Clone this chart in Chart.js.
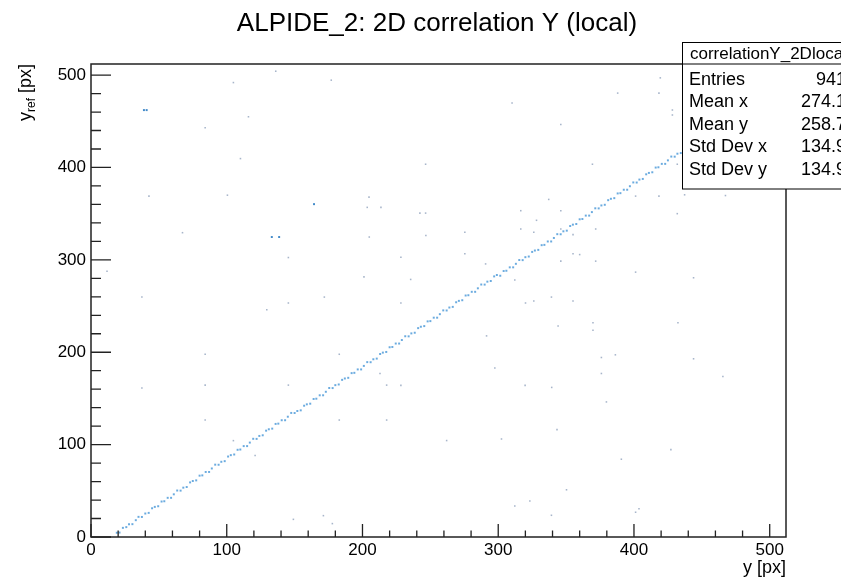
<!DOCTYPE html>
<html>
<head>
<meta charset="utf-8">
<script src="https://cdn.jsdelivr.net/npm/chart.js@4.4.1/dist/chart.umd.min.js"></script>
<style>
  body { margin: 0; background: #fff; }
  #c { display: block; }
</style>
</head>
<body>
<canvas id="c" width="841" height="582"></canvas>
<script>
// ticks
const xTicks = [0, 100, 200, 300, 400, 500];
const yTicks = [0, 100, 200, 300, 400, 500];

// hits on the correlation band [y, y_ref]
const lineHits = [
  [19,4.6],[21,4.8],[23.5,9.9],[26,10.7],[28,13.9],[30.5,13.9],[33,18.2],[35,21.8],[37.5,21.7],[40,25.4],
  [42.5,26.1],[45,31.1],[47,32.6],[49.5,33.3],[52,38.4],[54,38.7],[56.5,42.4],[59,42.4],[61,46.2],[63.5,50.3],
  [66,50.2],[68,53.4],[70.5,54.1],[73,59.1],[75,60.6],[77.5,61.3],[80,66.4],[82,66.7],[84.5,70.4],[87,70.4],
  [89,74.2],[91.5,78.3],[94,78.2],[96,81.4],[98.5,82.1],[101,87.1],[103,88.6],[105.5,89.3],[108,94.4],[110,94.7],
  [112.5,98.4],[115,98.4],[117,102.2],[119.5,106.3],[122,106.2],[124,109.4],[126.5,110.1],[129,115.1],[131,116.6],[133.5,117.3],
  [136,122.4],[138,122.7],[140.5,126.4],[143,126.4],[145,130.2],[147.5,134.3],[150,134.2],[152,136.4],[154.5,137.1],[157,142.1],
  [159,143.6],[161.5,144.3],[164,149.4],[166,149.7],[168.5,153.4],[171,153.4],[173,157.2],[175.5,161.3],[178,161.2],[180,164.4],
  [182.5,165.1],[185,170.1],[187,171.6],[189.5,172.3],[192,177.4],[194,177.7],[196.5,181.4],[199,181.4],[201,185.2],[203.5,189.3],
  [206,189.2],[208,192.4],[210.5,193.1],[213,198.1],[215,199.6],[217.5,200.3],[220,205.4],[222,205.7],[224.5,209.4],[227,209.4],
  [229,213.2],[231.5,217.3],[234,217.2],[236,220.4],[238.5,221.1],[241,226.1],[243,227.6],[245.5,228.3],[248,233.4],[250,233.7],
  [252.5,237.4],[255,237.4],[257,241.2],[259.5,245.3],[262,245.2],[264,248.4],[266.5,249.1],[269,254.1],[271,255.6],[273.5,256.3],
  [276,261.4],[278,261.7],[280.5,265.4],[283,265.4],[285,269.2],[287.5,273.3],[290,273.2],[292,276.4],[294.5,277.1],[297,282.1],
  [299,283.6],[301.5,282.8],[304,287.9],[306,288.2],[308.5,291.9],[311,291.9],[313,295.7],[315.5,299.8],[318,299.7],[320,302.9],
  [322.5,303.6],[325,308.6],[327,310.1],[329.5,310.8],[332,315.9],[334,316.2],[336.5,319.9],[339,319.9],[341,323.7],[343.5,327.8],
  [346,327.7],[348,330.9],[350.5,331.6],[353,336.6],[355,338.1],[357.5,338.8],[360,343.9],[362,344.2],[364.5,347.9],[367,347.9],
  [369,351.7],[371.5,355.8],[374,355.7],[376,358.9],[378.5,359.6],[381,364.6],[383,366.1],[385.5,366.8],[388,371.9],[390,372.2],
  [392.5,375.9],[395,375.9],[397,379.7],[399.5,383.8],[402,383.7],[404,386.9],[406.5,387.6],[409,392.6],[411,394.1],[413.5,394.8],
  [416,399.9],[418,400.2],[420.5,403.9],[423,403.9],[425,407.7],[427.5,411.8],[430,411.7],[432,414.9],[434.5,415.6],[437,420.6],
  [440,423.1]
];

// uncorrelated hits
const noiseHits = [
  [136.1,504.2],[104.9,491.9],[177.0,494.5],[116.0,454.9],[84.1,443.0],[110.1,409.6],[42.7,369.0],[100.5,370.0],
  [204.8,367.9],[203.5,356.8],[213.6,356.8],[67.4,329.4],[205.0,324.7],[145.4,302.5],[11.8,287.7],[201.1,281.6],
  [419.4,497.0],[388.0,480.5],[418.4,480.5],[310.2,469.7],[428.3,462.2],[428.3,456.8],[346.1,446.6],[246.5,403.5],
  [369.4,403.5],[431.9,403.5],[242.3,350.6],[246.5,350.6],[316.6,353.2],[346.1,353.2],[418.4,369.0],[401.2,369.0],
  [431.9,350.0],[337.2,365.4],[328.2,342.8],[246.7,326.3],[275.4,329.8],[316.6,333.4],[326.2,329.8],[346.1,333.4],
  [371.8,333.4],[355.1,327.3],[228.3,302.8],[275.4,306.5],[355.1,306.5],[360.0,305.7],[290.7,295.6],[346.1,298.6],
  [371.8,298.6],[401.2,286.7],[235.5,278.8],[312.2,278.1],[37.5,259.7],[145.4,253.3],[171.9,259.7],[129.5,246.0],
  [84.1,197.8],[182.9,197.8],[37.5,161.2],[84.1,164.4],[145.4,164.4],[217.8,164.4],[84.1,126.6],[182.9,126.6],
  [217.8,126.6],[104.9,104.3],[120.9,88.2],[443.9,280.6],[228.3,253.3],[320.1,253.3],[326.2,255.4],[339.2,259.7],
  [355.1,255.4],[344.1,228.5],[369.8,232.0],[369.8,223.8],[432.4,232.0],[291.4,217.7],[376.0,194.3],[386.3,197.2],
  [443.9,192.9],[297.5,182.9],[376.0,177.0],[465.5,173.8],[212.9,177.0],[228.3,164.1],[319.8,164.1],[339.4,161.9],
  [379.7,146.2],[262.0,104.4],[302.4,106.1],[343.3,116.2],[427.2,94.6],[390.7,84.2],[350.3,51.1],[323.3,38.9],
  [312.2,33.5],[403.7,30.6],[149.1,19.1],[171.2,23.1],[177.8,14.5],[437.3,370.4],[467.4,369.6],[339.2,23.5],
  [401.2,26.8]
];

// bins with more than one hit
const doubleHits = [[39,462.1],[41,462.1],[164.3,360.3],[133.2,324.7],[138.6,324.7]];

const statLabels = ['Entries', 'Mean x', 'Mean y', 'Std Dev x', 'Std Dev y'];
const statValues = ['941', '274.1', '258.7', '134.9', '134.9'];

const FONT = '"Liberation Sans", Arial, Helvetica, sans-serif';
const toPts = a => a.map(p => ({x: p[0], y: p[1]}));

const rootFrame = {
  id: 'rootFrame',
  afterDraw(chart) {
    const ctx = chart.ctx;
    const a = chart.chartArea;
    const sx = chart.scales.x, sy = chart.scales.y;
    ctx.save();
    ctx.strokeStyle = '#222';
    ctx.lineWidth = 1.5;
    ctx.strokeRect(a.left, a.top, a.right - a.left, a.bottom - a.top);

    // tick marks, inside the frame
    ctx.lineWidth = 1.3;
    ctx.beginPath();
    for (let v = 0; v <= 512; v += 20) {
      const major = v % 100 === 0;
      const px = sx.getPixelForValue(v);
      ctx.moveTo(px, a.bottom);
      ctx.lineTo(px, a.bottom - (major ? 13 : 6.5));
      const py = sy.getPixelForValue(v);
      ctx.moveTo(a.left, py);
      ctx.lineTo(a.left + (major ? 20 : 10), py);
    }
    ctx.stroke();

    // title
    ctx.fillStyle = '#000';
    ctx.font = '26px ' + FONT;
    ctx.textAlign = 'center';
    ctx.textBaseline = 'alphabetic';
    ctx.fillText('ALPIDE_2: 2D correlation Y (local)', 437, 31);

    // x title
    ctx.font = '18px ' + FONT;
    ctx.textAlign = 'right';
    ctx.fillText('y [px]', a.right, 573);

    // y title, rotated, with subscript
    ctx.save();
    ctx.translate(31, a.top);
    ctx.rotate(-Math.PI / 2);
    ctx.textAlign = 'left';
    const f1 = '18px ' + FONT, f2 = '12px ' + FONT;
    ctx.font = f1; const w1 = ctx.measureText('y').width;
    ctx.font = f2; const w2 = ctx.measureText('ref').width;
    ctx.font = f1; const w3 = ctx.measureText(' [px]').width;
    let x0 = -(w1 + w2 + w3);
    ctx.font = f1; ctx.fillText('y', x0, 0);
    ctx.font = f2; ctx.fillText('ref', x0 + w1, 4);
    ctx.font = f1; ctx.fillText(' [px]', x0 + w1 + w2, 0);
    ctx.restore();

    // stats box
    const bx = 682, by = 42.5, bw = 180, bh = 146.5;
    ctx.fillStyle = '#fff';
    ctx.fillRect(bx, by, bw, bh);
    ctx.strokeStyle = '#000';
    ctx.lineWidth = 1;
    ctx.strokeRect(bx + 0.5, by, bw, bh);
    ctx.beginPath();
    ctx.moveTo(bx, a.top);
    ctx.lineTo(bx + bw, a.top);
    ctx.stroke();
    ctx.fillStyle = '#000';
    ctx.textAlign = 'left';
    ctx.font = '17px ' + FONT;
    ctx.fillText('correlationY_2Dlocal', 690, 59);
    ctx.font = '18px ' + FONT;
    const rows = [85, 107, 129.5, 152, 175];
    statLabels.forEach((s, i) => {
      ctx.textAlign = 'left';
      ctx.fillText(s, 689, rows[i]);
      ctx.textAlign = 'right';
      ctx.fillText(statValues[i], 846, rows[i]);
    });
    ctx.restore();
  }
};

new Chart(document.getElementById('c'), {
  type: 'scatter',
  data: {
    datasets: [
      {
        label: 'band',
        data: toPts(lineHits),
        pointStyle: 'rect',
        pointRadius: 1.4,
        pointBorderWidth: 0,
        backgroundColor: 'rgba(70,150,215,0.8)'
      },
      {
        label: 'double',
        data: toPts(doubleHits),
        pointStyle: 'rect',
        pointRadius: 1.4,
        pointBorderWidth: 0,
        backgroundColor: 'rgba(45,125,195,0.9)'
      },
      {
        label: 'noise',
        data: toPts(noiseHits),
        pointStyle: 'rect',
        pointRadius: 1.1,
        pointBorderWidth: 0,
        backgroundColor: 'rgba(130,150,180,0.7)'
      }
    ]
  },
  options: {
    responsive: false,
    animation: false,
    devicePixelRatio: 1,
    layout: { padding: { left: 0, top: 64, right: 55, bottom: 0 } },
    plugins: { legend: { display: false }, tooltip: { enabled: false } },
    scales: {
      x: {
        type: 'linear', min: 0, max: 512,
        grid: { display: false, drawTicks: false },
        border: { display: false },
        afterBuildTicks: s => { s.ticks = xTicks.map(v => ({value: v})); },
        afterFit: s => { s.height = 45; },
        ticks: { color: '#000', padding: 3, maxRotation: 0, font: { family: FONT, size: 17 } }
      },
      y: {
        type: 'linear', min: 0, max: 512,
        grid: { display: false, drawTicks: false },
        border: { display: false },
        afterBuildTicks: s => { s.ticks = yTicks.map(v => ({value: v})); },
        afterFit: s => { s.width = 91; },
        ticks: { color: '#000', padding: 5, font: { family: FONT, size: 17 } }
      }
    }
  },
  plugins: [rootFrame]
});
</script>
</body>
</html>
